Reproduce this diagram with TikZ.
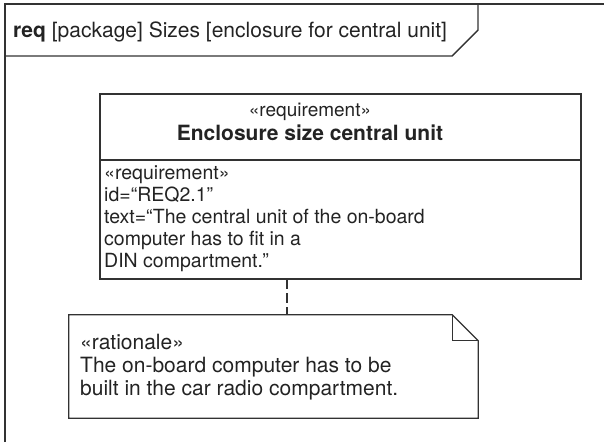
\documentclass[tikz,border=0pt]{standalone}
\usepackage{fontspec}
\setmainfont{TeX Gyre Heros}
\usetikzlibrary{positioning}
\definecolor{inkgray}{RGB}{35,35,35}
\definecolor{linegray}{RGB}{50,50,50}

\begin{document}
\begin{tikzpicture}[x=1pt, y=-1pt,
    frameline/.style={draw=linegray, line width=1.4pt},
    reqbox/.style={rectangle, draw=linegray, line width=1.3pt, minimum width=481pt, minimum height=185pt, inner sep=0pt},
    notebox/.style={rectangle, minimum width=409pt, minimum height=103pt, inner sep=0pt},
    bodytext/.style={text=inkgray, inner sep=0pt, align=left, font=\fontsize{19.5}{22}\selectfont},
]
    \useasboundingbox (0,0) rectangle (604,442);
    % frame and name tab
    \draw[frameline] (5,442) -- (5,4) -- (604,4);
    \draw[frameline] (5,56) -- (452,56) -- (478,30) -- (478,4);
    \node[anchor=base west, inner sep=0pt, text=inkgray, font=\fontsize{21}{25}\selectfont] (frametitle) at (13,37) {\textbf{req} [package] Sizes [enclosure for central unit]};

    % requirement
    \node[reqbox] (req) at (340.5,186.5) {};
    \draw[linegray, line width=1.3pt] (req.west |- 0,160) -- (req.east |- 0,160);
    \node[anchor=base, inner sep=0pt, text=inkgray, font=\fontsize{19}{25}\selectfont] (reqstereo) at (310,116) {«requirement»};
    \node[anchor=base, inner sep=0pt, text=inkgray, font=\fontsize{21}{25}\selectfont\bfseries] (reqname) at (310,140) {Enclosure size central unit};
    \node[bodytext, anchor=north west] (reqattr) at (104,166) {«requirement»\\ id=“REQ2.1”\\ text=“The central unit of the on-board\\ computer has to fit in a\\ DIN compartment.”};

    % rationale note
    \node[notebox] (note) at (273.5,366.5) {};
    \draw[linegray, line width=1.2pt] (note.north west) -- ([xshift=-26pt]note.north east) -- ([yshift=-26pt]note.north east) -- (note.south east) -- (note.south west) -- cycle;
    \draw[linegray, line width=1.2pt] ([xshift=-26pt]note.north east) |- ([yshift=-26pt]note.north east);
    \node[bodytext, anchor=north west, font=\fontsize{21}{23}\selectfont] (notetext) at (80,334) {«rationale»\\ The on-board computer has to be\\ built in the car radio compartment.};

    \coordinate (trace) at (287,279);
    \draw[linegray, line width=1.2pt, dash pattern=on 10pt off 4pt] (trace) -- (trace |- note.north);
\end{tikzpicture}
\end{document}
